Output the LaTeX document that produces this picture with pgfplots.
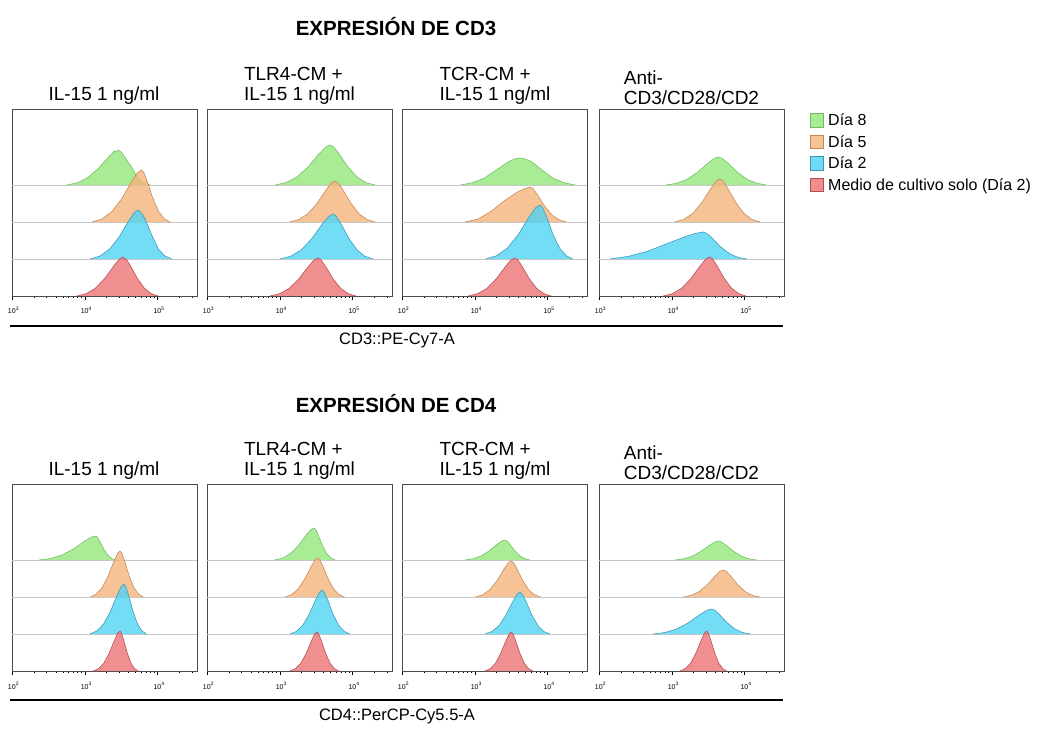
\documentclass[border=0pt]{standalone}
\usepackage{fontspec}
\setmainfont{Liberation Sans}
\usepackage{pgfplots}
\pgfplotsset{compat=1.18}
\definecolor{gF}{RGB}{149,230,124}
\definecolor{gL}{RGB}{110,190,95}
\definecolor{oF}{RGB}{243,180,124}
\definecolor{oL}{RGB}{195,135,85}
\definecolor{bF}{RGB}{80,212,243}
\definecolor{bL}{RGB}{60,150,180}
\definecolor{rF}{RGB}{236,115,115}
\definecolor{rL}{RGB}{180,75,85}
\definecolor{gS}{RGB}{170,235,150}
\definecolor{oS}{RGB}{245,195,150}
\definecolor{bS}{RGB}{110,220,245}
\definecolor{rS}{RGB}{240,140,140}
\pgfplotsset{
 panel/.style={scale only axis, width=185pt, height=187pt, anchor=south west,
  ymin=0, ymax=187, ytick=\empty,
  axis line style={draw=black!70, line width=0.6pt},
  xtick pos=bottom, xtick align=outside,
  major tick length=4pt, minor tick length=2pt,
  every tick/.style={black, line width=0.5pt},
  xticklabel style={font=\fontsize{7}{8}\selectfont, anchor=base, yshift=-14pt, xshift=1.5pt},
  extra y ticks={37,74,111}, extra y tick labels={},
  extra y tick style={grid=major, major grid style={black!22, line width=0.5pt}, major tick length=0pt},
  clip=true},
 toprow/.style={xmin=3, xmax=5.541, xtick={3,4,5},
  xticklabels={10\textsuperscript{3},10\textsuperscript{4},10\textsuperscript{5}},
  minor xtick={3.301,3.477,3.602,3.699,3.778,3.845,3.903,3.954,4.301,4.477,4.602,4.699,4.778,4.845,4.903,4.954,5.301,5.477}},
 botrow/.style={xmin=2, xmax=4.541, xtick={2,3,4},
  xticklabels={10\textsuperscript{2},10\textsuperscript{3},10\textsuperscript{4}},
  minor xtick={2.301,2.477,2.602,2.699,2.778,2.845,2.903,2.954,3.301,3.477,3.602,3.699,3.778,3.845,3.903,3.954,4.301,4.477}},
 gC/.style={fill=gF, fill opacity=0.8, draw=gL, line width=0.55pt},
 oC/.style={fill=oF, fill opacity=0.8, draw=oL, line width=0.55pt},
 bC/.style={fill=bF, fill opacity=0.8, draw=bL, line width=0.55pt},
 rC/.style={fill=rF, fill opacity=0.8, draw=rL, line width=0.55pt},
}
\newcommand\hist[3]{\addplot[#1] table[row sep=\\, y expr=\thisrowno{1}+#2] {#3};}
\newcommand\ptitle[3]{\node[anchor=south, align=left, inner sep=0pt, font=\fontsize{19}{20.5}\selectfont] at (#1,#2) {#3};}
\begin{document}
\begin{tikzpicture}[x=1pt,y=1pt]
\useasboundingbox (0,0) rectangle (1044,731);
% ---------- titles ----------
\node[anchor=base, inner sep=0pt, font=\bfseries\fontsize{20.5}{22}\selectfont] at (396,695) {EXPRESIÓN DE CD3};
\node[anchor=base, inner sep=0pt, font=\bfseries\fontsize{20.5}{22}\selectfont] at (396,318) {EXPRESIÓN DE CD4};
\ptitle{104}{626}{IL-15 1 ng/ml}
\ptitle{299.5}{626}{TLR4-CM +\\IL-15 1 ng/ml}
\ptitle{495}{626}{TCR-CM +\\IL-15 1 ng/ml}
\ptitle{691.5}{626}{Anti-\\CD3/CD28/CD2}
\ptitle{104}{251}{IL-15 1 ng/ml}
\ptitle{299.5}{251}{TLR4-CM +\\IL-15 1 ng/ml}
\ptitle{495}{251}{TCR-CM +\\IL-15 1 ng/ml}
\ptitle{691.5}{251}{Anti-\\CD3/CD28/CD2}
% ---------- top row ----------
\begin{axis}[panel, toprow, at={(12pt,435pt)}]
\hist{gC}{111}{3.75 0\\3.892 2.1\\4.034 7\\4.176 15.8\\4.318 27.3\\4.403 33.8\\4.43 33.1\\4.46 35\\4.495 33.3\\4.548 27.9\\4.636 18.8\\4.724 7\\4.812 2.1\\4.9 0\\}
\hist{oC}{74}{4.10 0\\4.236 3.1\\4.372 10.4\\4.508 23.4\\4.644 40.6\\4.726 49.4\\4.78 52\\4.811 49.4\\4.858 40.6\\4.936 23.4\\5.014 10.4\\5.092 3.1\\5.17 0\\}
\hist{bC}{37}{4.075 0\\4.207 2.9\\4.339 9.8\\4.471 22.1\\4.603 38.2\\4.682 46.6\\4.735 49\\4.772 46.6\\4.827 40.2\\4.919 24.1\\5.011 9.8\\5.103 2.9\\5.195 0\\}
\hist{rC}{0}{3.89 0\\4.018 2.3\\4.146 7.8\\4.274 17.6\\4.402 30.4\\4.479 37.1\\4.53 39\\4.55 36.5\\4.568 37.1\\4.626 30.4\\4.722 17.6\\4.818 7.8\\4.914 2.3\\5.01 0\\}
\end{axis}
\begin{axis}[panel, toprow, at={(207pt,435pt)}]
\hist{gC}{111}{3.934 0\\4.085 2.4\\4.236 8\\4.388 18\\4.539 31.2\\4.63 38\\4.69 40\\4.739 38\\4.814 31.2\\4.937 18\\5.061 8\\5.184 2.4\\5.308 0\\}
\hist{oC}{74}{4.138 0\\4.262 2.5\\4.386 8.2\\4.51 18.5\\4.634 32\\4.708 39\\4.758 41\\4.802 39\\4.868 32\\4.978 18.5\\5.088 8.2\\5.198 2.5\\5.308 0\\}
\hist{bC}{37}{4.001 0\\4.147 2.7\\4.293 9\\4.439 20.3\\4.585 35.1\\4.673 42.8\\4.731 45\\4.775 42.8\\4.841 35.1\\4.951 20.3\\5.061 9\\5.171 2.7\\5.281 0\\}
\hist{rC}{0}{3.865 0\\3.997 2.3\\4.129 7.6\\4.261 17.1\\4.393 29.6\\4.472 36.1\\4.525 38\\4.567 36.1\\4.629 29.6\\4.733 17.1\\4.837 7.6\\4.941 2.3\\5.045 0\\}
\end{axis}
\begin{axis}[panel, toprow, at={(402pt,435pt)}]
\hist{gC}{111}{3.80 0\\3.964 2.2\\4.128 6.8\\4.292 14.9\\4.456 23\\4.554 26.2\\4.62 27\\4.681 26.2\\4.772 23.8\\4.924 14.9\\5.076 6.8\\5.228 2.2\\5.38 0\\}
\hist{oC}{74}{3.86 0\\4.04 2.8\\4.22 10.5\\4.40 21\\4.58 29.8\\4.688 33.3\\4.76 35\\4.80 33.3\\4.86 27.3\\4.96 15.8\\5.06 7\\5.16 2.1\\5.26 0\\}
\hist{bC}{37}{4.146 0\\4.296 3.2\\4.446 10.8\\4.596 24.3\\4.746 42.1\\4.836 51.3\\4.896 54\\4.932 51.3\\4.986 42.1\\5.076 24.3\\5.166 10.8\\5.256 3.2\\5.346 0\\}
\hist{rC}{0}{3.91 0\\4.038 2.3\\4.166 7.6\\4.294 17.1\\4.422 29.6\\4.499 36.1\\4.55 38\\4.59 36.1\\4.65 29.6\\4.75 17.1\\4.85 7.6\\4.95 2.3\\5.05 0\\}
\end{axis}
\begin{axis}[panel, toprow, at={(599pt,435pt)}]
\hist{gC}{111}{3.92 0\\4.064 1.7\\4.208 5.6\\4.352 12.6\\4.496 21.8\\4.582 26.6\\4.64 28\\4.693 26.6\\4.772 21.8\\4.904 12.6\\5.036 5.6\\5.168 1.7\\5.30 0\\}
\hist{oC}{74}{4.04 0\\4.164 2.6\\4.288 8.6\\4.412 19.4\\4.536 33.5\\4.61 40.9\\4.66 43\\4.704 40.9\\4.77 33.5\\4.88 19.4\\4.99 8.6\\5.10 2.6\\5.21 0\\}
\hist{bC}{37}{3.15 0\\3.406 2.7\\3.662 7.6\\3.918 14.9\\4.174 22.1\\4.328 25.7\\4.43 27\\4.478 25.7\\4.55 21.1\\4.67 12.2\\4.79 5.4\\4.91 1.6\\5.03 0\\}
\hist{rC}{0}{3.88 0\\4.008 2.3\\4.136 7.8\\4.264 17.6\\4.392 30.4\\4.469 37.1\\4.52 39\\4.56 37.1\\4.62 30.4\\4.72 17.6\\4.82 7.8\\4.92 2.3\\5.02 0\\}
\end{axis}
% ---------- bottom row ----------
\begin{axis}[panel, botrow, at={(12pt,60pt)}]
\hist{gC}{111}{2.37 0\\2.526 1.4\\2.682 4.8\\2.838 10.8\\2.994 18.7\\3.088 22.8\\3.15 24\\3.172 22.8\\3.205 18.7\\3.26 10.8\\3.315 4.8\\3.37 1.4\\3.425 0\\}
\hist{oC}{74}{3.073 0\\3.155 2.8\\3.237 9.2\\3.319 20.7\\3.401 35.9\\3.45 43.7\\3.483 46\\3.509 43.7\\3.547 35.9\\3.611 20.7\\3.675 9.2\\3.739 2.8\\3.803 0\\}
\hist{bC}{37}{3.071 0\\3.164 3\\3.258 10\\3.351 22.5\\3.445 39\\3.501 47.5\\3.538 50\\3.563 47.5\\3.60 39\\3.662 22.5\\3.724 10\\3.786 3\\3.848 0\\}
\hist{rC}{0}{3.116 0\\3.189 2.4\\3.263 8\\3.336 18\\3.41 31.2\\3.454 38\\3.483 40\\3.503 38\\3.533 31.2\\3.583 18\\3.633 8\\3.683 2.4\\3.733 0\\}
\end{axis}
\begin{axis}[panel, botrow, at={(207pt,60pt)}]
\hist{gC}{111}{2.93 0\\3.038 1.9\\3.146 6.4\\3.254 14.4\\3.362 25\\3.427 30.4\\3.47 32\\3.493 30.4\\3.528 25\\3.586 14.4\\3.644 6.4\\3.702 1.9\\3.76 0\\}
\hist{oC}{74}{3.07 0\\3.16 2.3\\3.25 7.8\\3.34 17.6\\3.43 30.4\\3.484 37.1\\3.52 39\\3.55 37.1\\3.594 30.4\\3.668 17.6\\3.742 7.8\\3.816 2.3\\3.89 0\\}
\hist{bC}{37}{3.14 0\\3.228 2.6\\3.316 8.8\\3.404 19.8\\3.492 34.3\\3.545 41.8\\3.58 44\\3.61 41.8\\3.656 34.3\\3.732 19.8\\3.808 8.8\\3.884 2.6\\3.96 0\\}
\hist{rC}{0}{3.14 0\\3.214 2.3\\3.288 7.8\\3.362 17.6\\3.436 30.4\\3.48 37.1\\3.51 39\\3.534 37.1\\3.57 30.4\\3.63 17.6\\3.69 7.8\\3.75 2.3\\3.81 0\\}
\end{axis}
\begin{axis}[panel, botrow, at={(402pt,60pt)}]
\hist{gC}{111}{2.865 0\\2.975 1.2\\3.085 4\\3.195 9\\3.305 15.6\\3.371 19\\3.415 20\\3.442 19\\3.483 15.6\\3.551 9\\3.619 4\\3.687 1.2\\3.755 0\\}
\hist{oC}{74}{3.01 0\\3.108 2.2\\3.206 7.2\\3.304 16.2\\3.402 28.1\\3.461 34.2\\3.50 36\\3.532 34.2\\3.58 28.1\\3.66 16.2\\3.74 7.2\\3.82 2.2\\3.90 0\\}
\hist{bC}{37}{3.14 0\\3.236 2.5\\3.332 8.4\\3.428 18.9\\3.524 32.8\\3.582 39.9\\3.62 42\\3.653 39.9\\3.702 32.8\\3.784 18.9\\3.866 8.4\\3.948 2.5\\4.03 0\\}
\hist{rC}{0}{3.14 0\\3.212 2.3\\3.284 7.8\\3.356 17.6\\3.428 30.4\\3.471 37.1\\3.50 39\\3.524 37.1\\3.56 30.4\\3.62 17.6\\3.68 7.8\\3.74 2.3\\3.80 0\\}
\end{axis}
\begin{axis}[panel, botrow, at={(599pt,60pt)}]
\hist{gC}{111}{3.04 0\\3.16 1.1\\3.28 3.8\\3.40 8.6\\3.52 14.8\\3.592 18.1\\3.64 19\\3.682 18.1\\3.746 14.8\\3.852 8.6\\3.958 3.8\\4.064 1.1\\4.17 0\\}
\hist{oC}{74}{3.157 0\\3.267 1.6\\3.377 5.4\\3.487 12.2\\3.597 21.1\\3.663 25.7\\3.707 27\\3.747 25.7\\3.807 21.1\\3.907 12.2\\4.007 5.4\\4.107 1.6\\4.207 0\\}
\hist{bC}{37}{2.748 0\\2.908 1.5\\3.068 5\\3.228 11.3\\3.388 19.5\\3.484 23.8\\3.548 25\\3.59 23.8\\3.654 19.5\\3.76 11.3\\3.866 5\\3.972 1.5\\4.078 0\\}
\hist{rC}{0}{3.112 0\\3.185 2.4\\3.259 8\\3.332 18\\3.406 31.2\\3.45 38\\3.479 40\\3.501 38\\3.534 31.2\\3.589 18\\3.644 8\\3.699 2.4\\3.754 0\\}
\end{axis}
% ---------- axis rules and labels ----------
\draw[line width=2.2pt] (10,405) -- (783,405);
\draw[line width=2.2pt] (10,31) -- (783,31);
\node[anchor=base, inner sep=0pt, font=\fontsize{16.5}{18}\selectfont] at (397,386) {CD3::PE-Cy7-A};
\node[anchor=base, inner sep=0pt, font=\fontsize{16.5}{18}\selectfont] at (397,11) {CD4::PerCP-Cy5.5-A};
% ---------- legend ----------
\foreach \c/\l/\t [count=\i from 0] in {gS/gL/Día 8, oS/oL/Día 5, bS/bL/Día 2, rS/rL/Medio de cultivo solo (Día 2)}{
  \draw[fill=\c, draw=\l, line width=0.6pt] (810,{604-21.5*\i}) rectangle ++(13.5,13.5);
  \node[anchor=base west, inner sep=0pt, font=\fontsize{16}{18}\selectfont] at (828,{605-21.5*\i}) {\t};
}
\end{tikzpicture}
\end{document}
